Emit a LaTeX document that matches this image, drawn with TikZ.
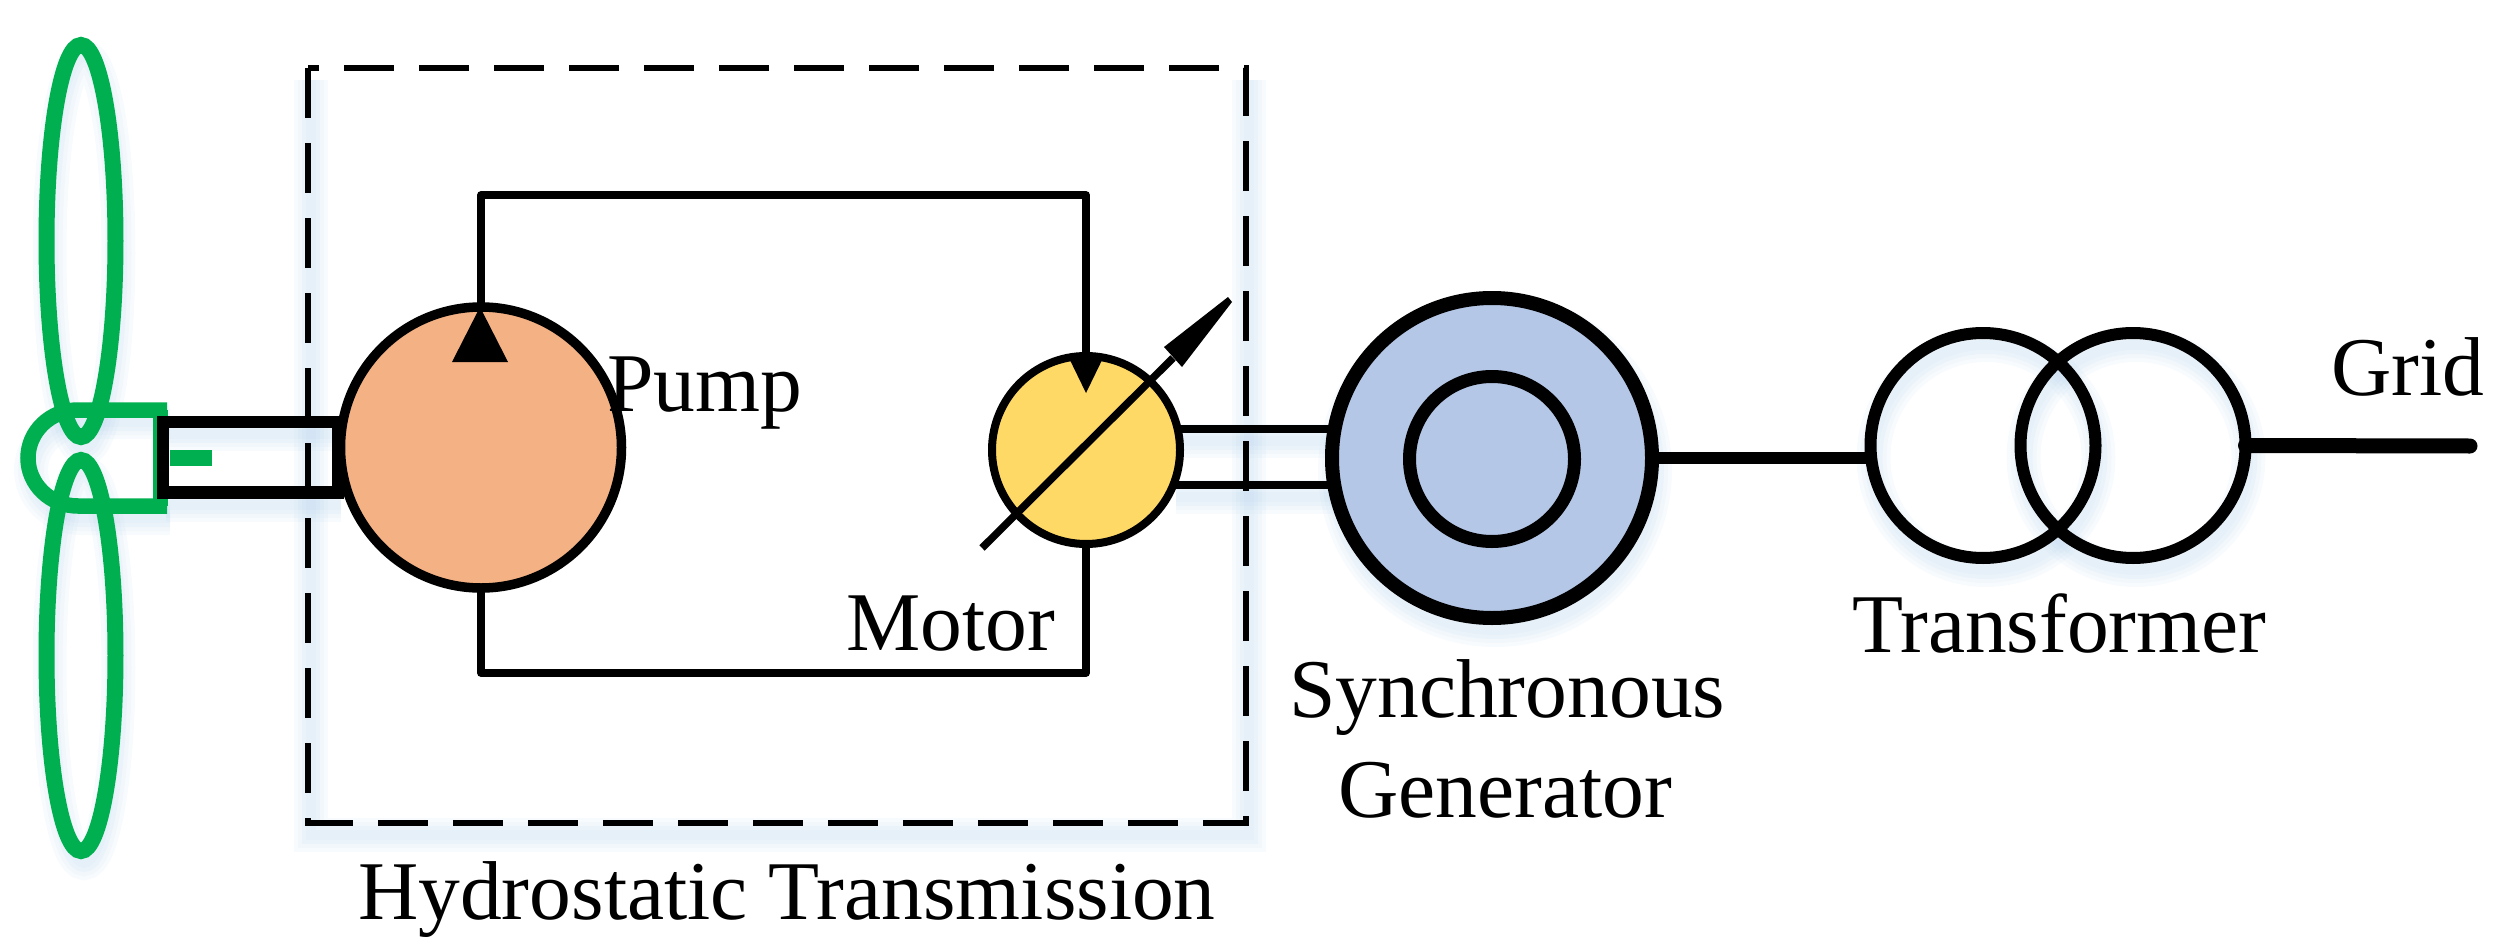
\documentclass[tikz,border=0pt]{standalone}
\usepackage{fontspec}
\setmainfont{Liberation Serif}
\usepackage{tikz}
\usetikzlibrary{backgrounds}

\definecolor{bladeGreen}{HTML}{00B050}
\definecolor{pumpOrange}{HTML}{F4B183}
\definecolor{motorYellow}{HTML}{FFD966}
\definecolor{genBlue}{HTML}{B4C7E7}
\definecolor{haloBlue}{HTML}{9DC3E6}

\tikzset{
  machine/.style={draw, circle, inner sep=0pt, outer sep=0pt},
  label/.style={anchor=base west, inner sep=0pt, font=\fontsize{83.5}{84}\selectfont},
  blade/.style={draw=bladeGreen, line width=16pt},
  pipe/.style={line width=7.5pt, line join=round}
}

\begin{document}
\begin{tikzpicture}[x=1pt,y=-1pt]

\useasboundingbox (0,0) rectangle (2503,947);

\node[machine, fill=pumpOrange, line width=9.5pt, minimum size=281pt] (nodePump) at (481,447.5) {};
\node[machine, fill=motorYellow, line width=8pt, minimum size=188pt] (nodeMotor) at (1086,450) {};
\node[machine, fill=genBlue, line width=14pt, minimum size=320pt] (nodeGen) at (1492,458) {};
\node[machine, line width=13pt, minimum size=165pt] (nodeRotor) at (1492,459) {};
\node[machine, line width=12pt, minimum size=225pt] (nodeTraA) at (1983,445.5) {};
\node[machine, line width=12pt, minimum size=225pt] (nodeTraB) at (2133,445.5) {};

\node[label] (nodeHST) at (358,919) {Hydrostatic Transmission};
\node[label] (nodeLabelPump) at (607,411) {Pump};
\node[label] (nodeLabelMotor) at (846,650) {Motor};
\node[label] (nodeSync) at (1289,717) {Synchronous};
\node[label] (nodeGener) at (1338,817) {Generator};
\node[label] (nodeTrans) at (1852,652) {Transformer};
\node[label] (nodeGrid) at (2331,395) {Grid};

\coordinate (pumpTop) at (481,195);
\coordinate (motorTop) at (1086,195);
\coordinate (pumpBot) at (481,673);
\coordinate (motorBot) at (1086,673);
\coordinate (arrowTail) at (982,548);
\coordinate (arrowBase) at (1173,358);
\coordinate (gridEnd) at (2470,446);

\begin{scope}[on background layer]
\foreach \w in {10,18,26,34} {
\begin{scope}[draw=haloBlue, opacity=.07, line width=\w pt, transform canvas={xshift=3pt,yshift=-12pt}]
\draw (81,241) ellipse (34.5 and 196);
\draw (81,655.5) ellipse (34.5 and 195.5);
\draw (167,410) -- (78,410) arc (-90:-270:50 and 48) -- (167,506);
\draw (163,422) -- (338,422);
\draw (163,492.5) -- (338,492.5);
\draw (308,68) -- (308,823) -- (1246,823) -- (1246,68);
\draw (nodeMotor.13) -- (nodeMotor.13 -| nodeGen.center);
\draw (nodeMotor.-22) -- (nodeMotor.-22 -| nodeGen.center);
\draw (nodeGen.center) circle (160);
\draw (nodeTraA.center) circle (112.5);
\draw (nodeTraB.center) circle (112.5);
\end{scope}
}
\draw [blade] (81,241) ellipse (34.5 and 196);
\draw [blade] (81,655.5) ellipse (34.5 and 195.5);
\draw [draw=bladeGreen, line width=15.5pt] (167,410) -- (78,410) arc (-90:-270:50 and 48) -- (167,506);
\draw [draw=bladeGreen, line width=15pt] (160,410) -- (160,506);
\draw [draw=bladeGreen, line width=16pt] (170,458) -- (212,458);
\draw [line width=12.5pt] (163,422) rectangle (338,492.5);
\draw [line width=8pt] (nodeMotor.13) -- (nodeMotor.13 -| nodeGen.center);
\draw [line width=8pt] (nodeMotor.-22) -- (nodeMotor.-22 -| nodeGen.center);
\end{scope}

\draw [pipe] (nodePump.north) -- (pumpTop) -- (motorTop) -- (nodeMotor.north);
\draw [pipe] (nodePump.south) -- (pumpBot) -- (motorBot) -- (nodeMotor.south);

\fill (480,307) -- (508,362) -- (452,362) -- cycle;
\fill (1068,356) -- (1104,356) -- (1086,393) -- cycle;

\draw [line width=7.5pt] (arrowTail) -- (arrowBase);
\fill (1164,347) -- (1228,297) -- (1232,302) -- (1182,367) -- cycle;

\draw [line width=6pt, dash pattern=on 50pt off 25pt] (308,68) -- (308,823) -- (1246,823) -- (1246,68) -- cycle;

\draw [line width=12pt] (nodeGen.east) -- (nodeGen.east -| nodeTraA.186);
\draw [line width=15pt, line cap=round] (nodeTraB.east) -- (gridEnd);

\end{tikzpicture}
\end{document}
